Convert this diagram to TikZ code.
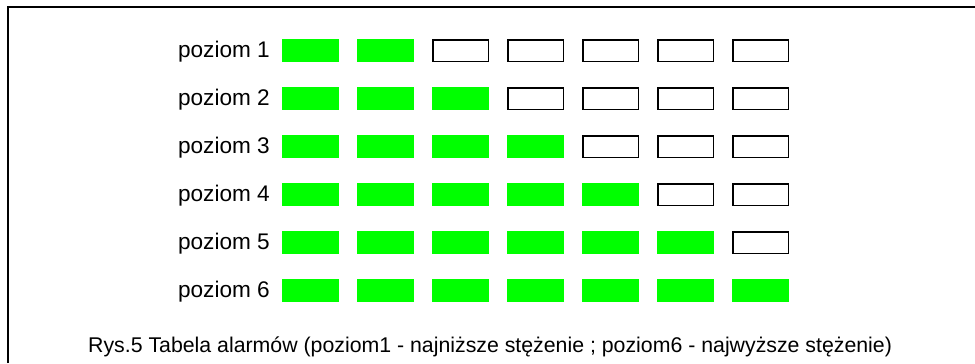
\documentclass[tikz,border=0pt]{standalone}
\usepackage{fontspec}
\setmainfont{Liberation Sans}
\definecolor{alarmgreen}{RGB}{0,255,0}
\begin{document}
\begin{tikzpicture}[x=1bp,y=-1bp,
  cell/.style={inner sep=0pt, outer sep=0pt, minimum width=57bp, minimum height=23bp, anchor=north west},
  oncell/.style={cell, fill=alarmgreen},
  offcell/.style={cell, draw=black, line width=1.5bp, fill=white, minimum width=55.5bp, minimum height=21.5bp},
  lvl/.style={anchor=base east, inner sep=0pt, font=\fontsize{22.6bp}{26bp}\selectfont},
  capt/.style={anchor=base west, inner sep=0pt, font=\fontsize{21.3bp}{25bp}\selectfont},
  frame/.style={line width=2bp, draw=black}
]
\useasboundingbox (0,0) rectangle (975,363);
\coordinate (fbl) at (8,363);
\coordinate (ftl) at (8,7);
\coordinate (ftr) at (975,7);
\draw[frame] (fbl) -- (ftl) -- (ftr);
\foreach \r in {1,...,6}{
  \pgfmathsetmacro{\yy}{39+48*(\r-1)}
  \pgfmathsetmacro{\yb}{57+48*(\r-1)}
  \node[lvl] (lab\r) at (270,\yb) {poziom \r};
  \foreach \i in {1,...,7}{
    \pgfmathsetmacro{\xx}{282+75*(\i-1)}
    \pgfmathtruncatemacro{\on}{\i<=\r+1 ? 1 : 0}
    \ifnum\on=1
      \node[oncell] (c\r-\i) at (\xx,\yy) {};
    \else
      \node[offcell] (c\r-\i) at (\xx+0.75,\yy+0.75) {};
    \fi
  }
}
\node[capt] (caption) at (88,352) {Rys.5 Tabela alarmów (poziom1 - najniższe stężenie ; poziom6 - najwyższe stężenie)};
\end{tikzpicture}
\end{document}
